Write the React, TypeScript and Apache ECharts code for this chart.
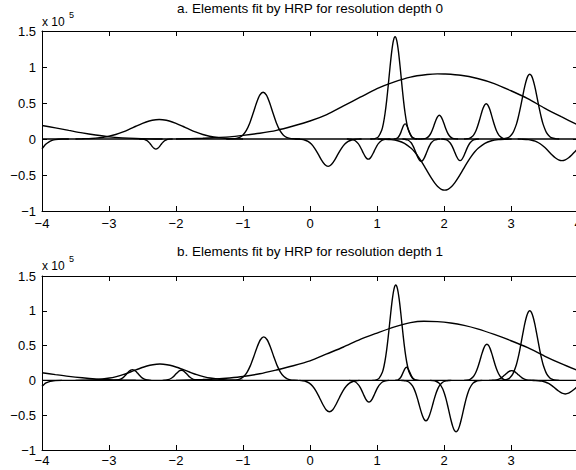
import React, { useEffect, useRef } from "react";
import * as echarts from "echarts";

// ---------- axis ticks ----------
const xTicks = [-4, -3, -2, -1, 0, 1, 2, 3, 4];
const yTicks = [-1, -0.5, 0, 0.5, 1, 1.5];
const titleA = "a. Elements fit by HRP for resolution depth 0";
const titleB = "b. Elements fit by HRP for resolution depth 1";
const baseline = [[-4, 0], [4, 0]];

// ---------- panel a (values in units of 1e5) ----------
const aEdgeL = [[-4,0.187],[-3.8,0.155],[-3.6,0.12],[-3.4,0.085],[-3.2,0.055],[-3.0,0.03],[-2.8,0.015],[-2.6,0.006],[-2.4,0.002],[-2.2,0]];
const aBumpL = [[-3.5,0],[-3.4,0.003],[-3.2,0.012],[-3.0,0.039],[-2.9,0.063],[-2.8,0.095],[-2.7,0.134],[-2.6,0.177],[-2.5,0.218],[-2.4,0.25],[-2.3,0.268],[-2.25,0.27],[-2.2,0.268],[-2.1,0.25],[-2.0,0.218],[-1.9,0.177],[-1.8,0.134],[-1.7,0.095],[-1.6,0.063],[-1.5,0.039],[-1.3,0.012],[-1.1,0.003],[-1.0,0]];
const aBroad = [[-2.0,0],[-1.6,0.01],[-1.4,0.02],[-1.2,0.03],[-1.0,0.05],[-0.75,0.08],[-0.5,0.12],[-0.25,0.18],[0,0.25],[0.25,0.34],[0.5,0.46],[0.75,0.58],[1.0,0.70],[1.25,0.79],[1.5,0.86],[1.75,0.895],[1.9,0.905],[2.0,0.903],[2.25,0.885],[2.5,0.84],[2.75,0.77],[3.0,0.67],[3.25,0.56],[3.5,0.43],[3.75,0.31],[4.0,0.195]];
const aEdgeNeg = [[-4,-0.135],[-3.97,-0.1],[-3.94,-0.07],[-3.9,-0.042],[-3.85,-0.02],[-3.8,-0.008],[-3.7,-0.001],[-3.6,0]];
const aNeg1 = [[-2.55,0],[-2.5,-0.002],[-2.45,-0.014],[-2.425,-0.028],[-2.4,-0.05],[-2.375,-0.079],[-2.35,-0.109],[-2.325,-0.131],[-2.3,-0.14],[-2.275,-0.131],[-2.25,-0.109],[-2.225,-0.079],[-2.2,-0.05],[-2.175,-0.028],[-2.15,-0.014],[-2.1,-0.002],[-2.05,0]];
const aPos1 = [[-1.25,0],[-1.2,0.001],[-1.15,0.003],[-1.1,0.009],[-1.05,0.024],[-1.0,0.057],[-0.95,0.12],[-0.9,0.22],[-0.85,0.354],[-0.8,0.496],[-0.75,0.608],[-0.7,0.65],[-0.65,0.608],[-0.6,0.496],[-0.55,0.354],[-0.5,0.22],[-0.45,0.12],[-0.4,0.057],[-0.35,0.024],[-0.3,0.009],[-0.25,0.003],[-0.2,0.001],[-0.15,0]];
const aNeg2 = [[-0.23,0],[-0.18,-0.002],[-0.13,-0.005],[-0.08,-0.014],[-0.03,-0.033],[0.02,-0.07],[0.07,-0.129],[0.12,-0.207],[0.17,-0.29],[0.22,-0.355],[0.27,-0.38],[0.32,-0.355],[0.37,-0.29],[0.42,-0.207],[0.47,-0.129],[0.52,-0.07],[0.57,-0.033],[0.62,-0.014],[0.67,-0.005],[0.72,-0.002],[0.77,0]];
const aNeg3 = [[0.55,0],[0.57,-0.001],[0.62,-0.005],[0.67,-0.021],[0.72,-0.064],[0.745,-0.101],[0.77,-0.146],[0.795,-0.194],[0.82,-0.238],[0.845,-0.269],[0.87,-0.28],[0.895,-0.269],[0.92,-0.238],[0.945,-0.194],[0.97,-0.146],[0.995,-0.101],[1.02,-0.064],[1.07,-0.021],[1.12,-0.005],[1.17,-0.001],[1.2,0]];
const aPeak = [[0.9,0],[0.92,0.001],[0.97,0.005],[1.02,0.03],[1.07,0.12],[1.095,0.214],[1.12,0.354],[1.145,0.541],[1.17,0.766],[1.195,1.004],[1.22,1.217],[1.245,1.366],[1.27,1.42],[1.295,1.366],[1.32,1.217],[1.345,1.004],[1.37,0.766],[1.395,0.541],[1.42,0.354],[1.445,0.214],[1.47,0.12],[1.52,0.03],[1.57,0.005],[1.62,0.001],[1.65,0]];
const aSmall = [[1.25,0],[1.27,0.002],[1.295,0.009],[1.32,0.028],[1.345,0.068],[1.37,0.127],[1.395,0.185],[1.42,0.21],[1.445,0.185],[1.47,0.127],[1.495,0.068],[1.52,0.028],[1.545,0.009],[1.57,0.002],[1.6,0]];
const aNeg4 = [[1.38,0],[1.41,-0.002],[1.46,-0.014],[1.51,-0.053],[1.535,-0.092],[1.56,-0.142],[1.585,-0.2],[1.61,-0.255],[1.635,-0.295],[1.66,-0.31],[1.685,-0.295],[1.71,-0.255],[1.735,-0.2],[1.76,-0.142],[1.785,-0.092],[1.81,-0.053],[1.86,-0.014],[1.91,-0.002],[1.94,0]];
const aBigNeg = [[1.01,0],[1.11,-0.003],[1.21,-0.009],[1.31,-0.025],[1.41,-0.06],[1.51,-0.128],[1.56,-0.177],[1.61,-0.237],[1.66,-0.307],[1.71,-0.383],[1.76,-0.463],[1.81,-0.54],[1.86,-0.609],[1.91,-0.663],[1.96,-0.698],[2.01,-0.71],[2.06,-0.698],[2.11,-0.663],[2.16,-0.609],[2.21,-0.54],[2.26,-0.463],[2.31,-0.383],[2.36,-0.307],[2.41,-0.237],[2.46,-0.177],[2.51,-0.128],[2.61,-0.06],[2.71,-0.025],[2.81,-0.009],[2.91,-0.003],[3.01,0]];
const aPos2 = [[1.65,0],[1.68,0.001],[1.73,0.009],[1.755,0.022],[1.78,0.045],[1.805,0.082],[1.83,0.136],[1.855,0.2],[1.88,0.264],[1.905,0.312],[1.93,0.33],[1.955,0.312],[1.98,0.264],[2.005,0.2],[2.03,0.136],[2.055,0.082],[2.08,0.045],[2.105,0.022],[2.13,0.009],[2.18,0.001],[2.21,0]];
const aNeg5 = [[1.96,0],[1.99,-0.002],[2.04,-0.013],[2.09,-0.052],[2.115,-0.089],[2.14,-0.137],[2.165,-0.193],[2.19,-0.247],[2.215,-0.286],[2.24,-0.3],[2.265,-0.286],[2.29,-0.247],[2.315,-0.193],[2.34,-0.137],[2.365,-0.089],[2.39,-0.052],[2.44,-0.013],[2.49,-0.002],[2.52,0]];
const aPos3 = [[2.3,0],[2.33,0.002],[2.38,0.01],[2.43,0.041],[2.455,0.074],[2.48,0.122],[2.505,0.187],[2.53,0.264],[2.555,0.346],[2.58,0.42],[2.605,0.471],[2.63,0.49],[2.655,0.471],[2.68,0.42],[2.705,0.346],[2.73,0.264],[2.755,0.187],[2.78,0.122],[2.805,0.074],[2.83,0.041],[2.88,0.01],[2.93,0.002],[2.96,0]];
const aPos4 = [[2.84,0],[2.88,0.002],[2.93,0.01],[2.98,0.032],[3.03,0.088],[3.08,0.203],[3.105,0.288],[3.13,0.39],[3.155,0.503],[3.18,0.62],[3.205,0.73],[3.23,0.82],[3.255,0.879],[3.28,0.9],[3.305,0.879],[3.33,0.82],[3.355,0.73],[3.38,0.62],[3.405,0.503],[3.43,0.39],[3.455,0.288],[3.48,0.203],[3.53,0.088],[3.58,0.032],[3.63,0.01],[3.68,0.002],[3.72,0]];
const aNeg6 = [[3.1,0],[3.16,-0.002],[3.26,-0.008],[3.31,-0.017],[3.36,-0.03],[3.41,-0.052],[3.46,-0.083],[3.51,-0.123],[3.56,-0.17],[3.61,-0.218],[3.66,-0.26],[3.71,-0.289],[3.76,-0.3],[3.81,-0.289],[3.86,-0.26],[3.91,-0.218],[3.96,-0.17],[4.0,-0.132]];

// ---------- panel b ----------
const bEdgeL = [[-4,0.11],[-3.8,0.083],[-3.6,0.058],[-3.4,0.038],[-3.2,0.022],[-3.0,0.011],[-2.8,0.005],[-2.6,0.002],[-2.4,0]];
const bBumpL = [[-3.5,0],[-3.39,0.002],[-3.19,0.01],[-2.99,0.034],[-2.89,0.055],[-2.79,0.082],[-2.69,0.117],[-2.59,0.154],[-2.49,0.189],[-2.39,0.217],[-2.29,0.233],[-2.24,0.235],[-2.19,0.233],[-2.09,0.217],[-1.99,0.189],[-1.89,0.154],[-1.79,0.117],[-1.69,0.082],[-1.59,0.055],[-1.49,0.034],[-1.29,0.01],[-1.09,0.002],[-1.0,0]];
const bSmall1 = [[-2.93,0],[-2.9,0.002],[-2.85,0.01],[-2.8,0.033],[-2.775,0.053],[-2.75,0.078],[-2.725,0.105],[-2.7,0.13],[-2.675,0.148],[-2.65,0.155],[-2.625,0.148],[-2.6,0.13],[-2.575,0.105],[-2.55,0.078],[-2.525,0.053],[-2.5,0.033],[-2.45,0.01],[-2.4,0.002],[-2.37,0]];
const bSmall2 = [[-2.2,0],[-2.17,0.002],[-2.12,0.009],[-2.07,0.031],[-2.045,0.049],[-2.02,0.073],[-1.995,0.098],[-1.97,0.122],[-1.945,0.139],[-1.92,0.145],[-1.895,0.139],[-1.87,0.122],[-1.845,0.098],[-1.82,0.073],[-1.795,0.049],[-1.77,0.031],[-1.72,0.009],[-1.67,0.002],[-1.64,0]];
const bEdgeNeg = [[-4,-0.085],[-3.97,-0.058],[-3.94,-0.037],[-3.9,-0.02],[-3.85,-0.008],[-3.8,-0.003],[-3.7,0]];
const bPos1 = [[-1.2,0],[-1.14,0.003],[-1.09,0.008],[-1.04,0.023],[-0.99,0.055],[-0.94,0.116],[-0.89,0.212],[-0.84,0.34],[-0.79,0.477],[-0.74,0.584],[-0.69,0.625],[-0.64,0.584],[-0.59,0.477],[-0.54,0.34],[-0.49,0.212],[-0.44,0.116],[-0.39,0.055],[-0.34,0.023],[-0.29,0.008],[-0.24,0.003],[-0.18,0]];
const bBroad = [[-2.0,0],[-1.6,0.012],[-1.4,0.02],[-1.2,0.035],[-1.0,0.056],[-0.75,0.095],[-0.5,0.15],[-0.25,0.21],[0,0.28],[0.25,0.38],[0.5,0.48],[0.75,0.59],[1.0,0.68],[1.25,0.765],[1.5,0.83],[1.7,0.85],[1.9,0.845],[2.1,0.825],[2.3,0.79],[2.5,0.74],[2.75,0.66],[3.0,0.57],[3.25,0.47],[3.5,0.35],[3.75,0.24],[4.0,0.14]];
const bNeg1 = [[-0.16,0],[-0.11,-0.006],[-0.06,-0.016],[-0.01,-0.04],[0.04,-0.083],[0.09,-0.153],[0.14,-0.245],[0.19,-0.343],[0.24,-0.421],[0.29,-0.45],[0.34,-0.421],[0.39,-0.343],[0.44,-0.245],[0.49,-0.153],[0.54,-0.083],[0.59,-0.04],[0.64,-0.016],[0.69,-0.006],[0.74,0]];
const bNeg2 = [[0.58,0],[0.63,-0.005],[0.68,-0.023],[0.73,-0.071],[0.755,-0.112],[0.78,-0.161],[0.805,-0.215],[0.83,-0.264],[0.855,-0.298],[0.88,-0.31],[0.905,-0.298],[0.93,-0.264],[0.955,-0.215],[0.98,-0.161],[1.005,-0.112],[1.03,-0.071],[1.08,-0.023],[1.13,-0.005],[1.18,0]];
const bPeak = [[0.93,0],[0.98,0.005],[1.03,0.029],[1.08,0.116],[1.105,0.207],[1.13,0.341],[1.155,0.522],[1.18,0.738],[1.205,0.969],[1.23,1.174],[1.255,1.318],[1.28,1.37],[1.305,1.318],[1.33,1.174],[1.355,0.969],[1.38,0.738],[1.405,0.522],[1.43,0.341],[1.455,0.207],[1.48,0.116],[1.53,0.029],[1.58,0.005],[1.63,0]];
const bSmall3 = [[1.27,0],[1.29,0.002],[1.315,0.008],[1.34,0.026],[1.365,0.062],[1.39,0.115],[1.415,0.167],[1.44,0.19],[1.465,0.167],[1.49,0.115],[1.515,0.062],[1.54,0.026],[1.565,0.008],[1.59,0.002],[1.61,0]];
const bNeg3 = [[1.35,0],[1.38,-0.001],[1.43,-0.006],[1.48,-0.026],[1.53,-0.078],[1.555,-0.125],[1.58,-0.188],[1.605,-0.266],[1.63,-0.352],[1.655,-0.438],[1.68,-0.512],[1.705,-0.562],[1.73,-0.58],[1.755,-0.562],[1.78,-0.512],[1.805,-0.438],[1.83,-0.352],[1.855,-0.266],[1.88,-0.188],[1.905,-0.125],[1.93,-0.078],[1.98,-0.026],[2.03,-0.006],[2.08,-0.001],[2.11,0]];
const bNeg4 = [[1.79,0],[1.83,-0.003],[1.88,-0.012],[1.93,-0.043],[1.98,-0.12],[2.005,-0.184],[2.03,-0.266],[2.055,-0.364],[2.08,-0.47],[2.105,-0.573],[2.13,-0.661],[2.155,-0.719],[2.18,-0.74],[2.205,-0.719],[2.23,-0.661],[2.255,-0.573],[2.28,-0.47],[2.305,-0.364],[2.33,-0.266],[2.355,-0.184],[2.38,-0.12],[2.43,-0.043],[2.48,-0.012],[2.53,-0.003],[2.57,0]];
const bPos2 = [[2.3,0],[2.34,0.003],[2.39,0.016],[2.44,0.056],[2.465,0.095],[2.49,0.149],[2.515,0.218],[2.54,0.298],[2.565,0.381],[2.59,0.453],[2.615,0.502],[2.64,0.52],[2.665,0.502],[2.69,0.453],[2.715,0.381],[2.74,0.298],[2.765,0.218],[2.79,0.149],[2.815,0.095],[2.84,0.056],[2.89,0.016],[2.94,0.003],[2.98,0]];
const bSmall4 = [[2.67,0],[2.71,0.001],[2.76,0.004],[2.81,0.015],[2.835,0.026],[2.86,0.04],[2.885,0.059],[2.91,0.08],[2.935,0.102],[2.96,0.122],[2.985,0.135],[3.01,0.14],[3.035,0.135],[3.06,0.122],[3.085,0.102],[3.11,0.08],[3.135,0.059],[3.16,0.04],[3.185,0.026],[3.21,0.015],[3.26,0.004],[3.31,0.001],[3.35,0]];
const bPos3 = [[2.84,0],[2.88,0.003],[2.93,0.011],[2.98,0.035],[3.03,0.098],[3.08,0.226],[3.105,0.32],[3.13,0.433],[3.155,0.559],[3.18,0.689],[3.205,0.811],[3.23,0.911],[3.255,0.977],[3.28,1.0],[3.305,0.977],[3.33,0.911],[3.355,0.811],[3.38,0.689],[3.405,0.559],[3.43,0.433],[3.455,0.32],[3.48,0.226],[3.53,0.098],[3.58,0.035],[3.63,0.011],[3.68,0.003],[3.72,0]];
const bNeg5 = [[3.31,0],[3.36,-0.0015],[3.41,-0.004],[3.46,-0.01],[3.51,-0.023],[3.56,-0.044],[3.61,-0.075],[3.66,-0.114],[3.71,-0.153],[3.76,-0.184],[3.81,-0.195],[3.86,-0.184],[3.91,-0.153],[3.96,-0.114],[4.0,-0.082]];

const panelA = [baseline, aEdgeL, aBumpL, aBroad, aEdgeNeg, aNeg1, aPos1, aNeg2, aNeg3, aPeak, aSmall, aNeg4, aBigNeg, aPos2, aNeg5, aPos3, aPos4, aNeg6];
const panelB = [baseline, bEdgeL, bBumpL, bSmall1, bSmall2, bEdgeNeg, bPos1, bBroad, bNeg1, bNeg2, bPeak, bSmall3, bNeg3, bNeg4, bPos2, bSmall4, bPos3, bNeg5];

const FONT = "'Liberation Sans', Arial, Helvetica, sans-serif";
const fmt = (v: number) => (v < 0 ? "\u2212" + Math.abs(v) : String(v));

export default function App() {
  const ref = useRef<HTMLDivElement>(null);
  useEffect(() => {
    if (!ref.current) return;
    const chart = echarts.init(ref.current, undefined, { renderer: "svg" });
    const axisLine = { show: true, onZero: false, lineStyle: { color: "#000", width: 1 } };
    const tick = { show: true, inside: true, length: 5, lineStyle: { color: "#000", width: 1 } };
    const mkX = (grid: number, pos: "top" | "bottom", showLabel: boolean, showMax: boolean, margin: number) => ({
      type: "value", gridIndex: grid, position: pos, min: xTicks[0], max: xTicks[xTicks.length - 1], interval: 1,
      axisLine, axisTick: tick, splitLine: { show: false },
      axisLabel: { show: showLabel, color: "#000", fontSize: 13, fontFamily: FONT, margin, formatter: fmt, showMaxLabel: showMax, showMinLabel: true },
    });
    const mkY = (grid: number, pos: "left" | "right", showLabel: boolean) => ({
      type: "value", gridIndex: grid, position: pos, min: yTicks[0], max: yTicks[yTicks.length - 1], interval: 0.5,
      axisLine, axisTick: tick, splitLine: { show: false },
      axisLabel: { show: showLabel, color: "#000", fontSize: 13, fontFamily: FONT, margin: 6, formatter: fmt, showMinLabel: true, showMaxLabel: true },
    });
    const mkSeries = (data: number[][], xi: number, yi: number) => ({
      type: "line", xAxisIndex: xi, yAxisIndex: yi, data, showSymbol: false, symbol: "none",
      smooth: 0.25, lineStyle: { color: "#000", width: 1.4 }, silent: true, clip: true,
    });
    const text = (t: string, x: number, y: number, size: number, align = "left") => ({
      type: "text", x, y, silent: true,
      style: { text: t, fill: "#000", fontSize: size, fontFamily: FONT, textAlign: align, textVerticalAlign: "middle" },
    });
    chart.setOption({
      animation: false,
      backgroundColor: "#fff",
      grid: [
        { left: 42, top: 31, width: 536, height: 180, outerBoundsMode: "none", containLabel: false },
        { left: 42, top: 276, width: 536, height: 174, outerBoundsMode: "none", containLabel: false },
      ],
      xAxis: [mkX(0, "bottom", true, true, 6), mkX(0, "top", false, true, 6), mkX(1, "bottom", true, false, 4), mkX(1, "top", false, true, 6)],
      yAxis: [mkY(0, "left", true), mkY(0, "right", false), mkY(1, "left", true), mkY(1, "right", false)],
      series: [
        ...panelA.map((d) => mkSeries(d, 0, 0)),
        ...panelB.map((d) => mkSeries(d, 2, 2)),
      ],
      graphic: [
        text(titleA, 310, 8, 13.5, "center"),
        text("x 10", 42, 22, 12),
        text("5", 69, 15, 9),
        text(titleB, 310, 251, 13.5, "center"),
        text("x 10", 42, 266, 12),
        text("5", 69, 259, 9),
      ],
    });
    return () => chart.dispose();
  }, []);
  return <div ref={ref} style={{ position: "absolute", left: 0, top: 0, width: 576, height: 470, background: "#fff" }} />;
}
